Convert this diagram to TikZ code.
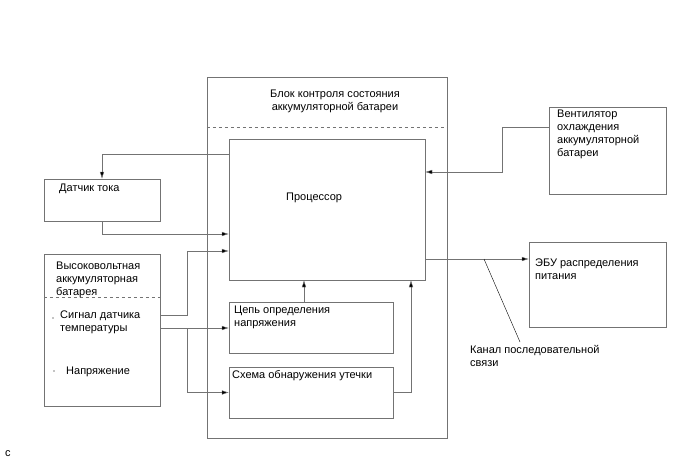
\documentclass[tikz,border=0pt]{standalone}
\usepackage{fontspec}
\setmainfont{Liberation Sans}
\usetikzlibrary{arrows.meta,calc}
\tikzstyle{box}=[rectangle,draw=black!55,fill=white,inner sep=0pt,anchor=center]
\tikzstyle{annot}=[align=left,anchor=north west,inner sep=0pt,font=\fontsize{11}{12.8}\selectfont]
\tikzstyle{wire}=[draw=black!55]
\tikzstyle{arr}=[wire,-{Latex[length=7pt,width=4.5pt,fill=black]}]
\begin{document}
\begin{tikzpicture}[x=1pt,y=-1pt]
	\useasboundingbox (0,0) rectangle (688,463);

	% battery monitoring unit
	\node[box, minimum width=240pt, minimum height=361pt](bms) at (327,257.5){};
	\draw[wire, dashed] (bms.west |- 0,127) -- (bms.east |- 0,127);
	\node[annot, align=center, anchor=north](bmstext) at (335,90) {Блок контроля состояния\\аккумуляторной батареи};

	\node[box, minimum width=196pt, minimum height=141pt](proc) at (327,209.5){};
	\node[annot](proctext) at (286,193) {Процессор};
	\node[box, minimum width=164pt, minimum height=51pt](volt) at (311,327.5){};
	\node[annot](volttext) at (234,306) {Цепь определения\\напряжения};
	\node[box, minimum width=164pt, minimum height=51pt](leak) at (311,392.5){};
	\node[annot](leaktext) at (232,370) {Схема обнаружения утечки};

	% outside blocks
	\node[box, minimum width=116pt, minimum height=42pt](cur) at (102,200){};
	\node[annot](curtext) at (59,184) {Датчик тока};
	\node[box, minimum width=116pt, minimum height=152pt](hv) at (102,330){};
	\draw[wire, dashed] (hv.west |- 0,297) -- (hv.east |- 0,297);
	\node[annot](hvtext) at (56,262) {Высоковольтная\\аккумуляторная\\батарея};
	\node[annot](temptext) at (60,311) {Сигнал датчика\\температуры};
	\node[annot](utext) at (66,367) {Напряжение};
	\fill (53,318) circle (0.6pt);
	\fill (54,371) circle (0.6pt);
	\node[box, minimum width=117pt, minimum height=87pt](fan) at (607.5,150.5){};
	\node[annot](fantext) at (557,110) {Вентилятор\\охлаждения\\аккумуляторной\\батареи};
	\node[box, minimum width=137pt, minimum height=85pt](ecu) at (597.5,284.5){};
	\node[annot](ecutext) at (535,259) {ЭБУ распределения\\питания};

	% connections
	\draw[arr] (proc.west |- 0,154) -| (cur.north);
	\draw[arr] (cur.south) |- (proc.west |- 0,234);
	\draw[arr] (hv.east |- 0,315) -| (187,251) -- (proc.west |- 0,251);
	\draw[arr] (hv.east |- 0,328) -- (volt.west |- 0,328);
	\draw[arr] (187,328) |- (leak.west);
	\draw[arr] (volt.north -| 304,0) -- (proc.south -| 304,0);
	\draw[arr] (leak.east) -| (proc.south -| 411,0);
	\draw[arr] (fan.west |- 0,127) -| (502,172) -- (proc.east |- 0,172);
	\draw[arr] (proc.east |- 0,259) -- (ecu.west |- 0,259);

	\coordinate (bus) at (484,259);
	\draw (bus) -- (520,342);
	\node[annot](bustext) at (470,345) {Канал последовательной\\связи};

	\node[annot](ctext) at (5,450) {c};
\end{tikzpicture}
\end{document}
